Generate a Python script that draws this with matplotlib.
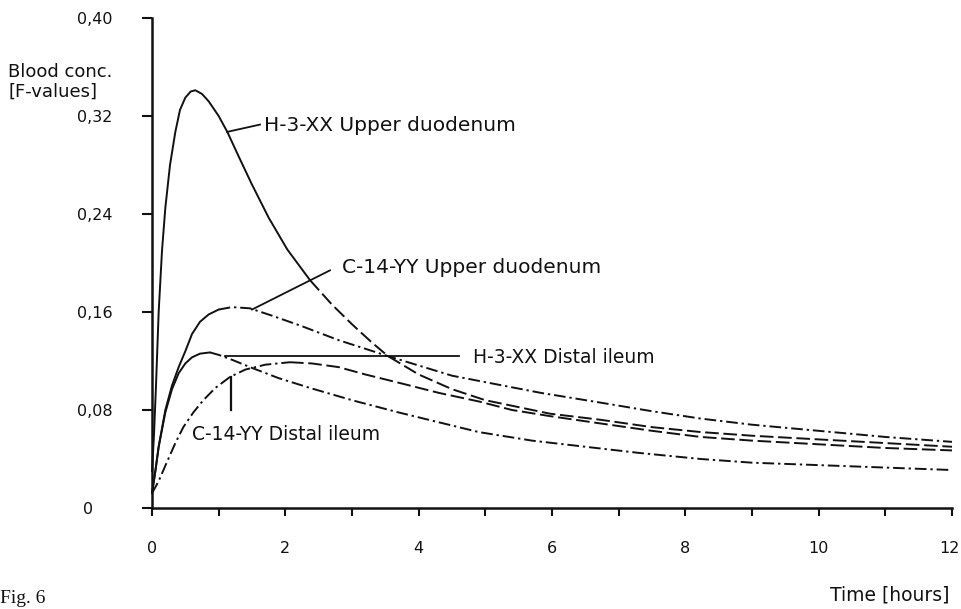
import matplotlib
matplotlib.use("Agg")
import matplotlib.pyplot as plt
from matplotlib.transforms import ScaledTranslation

# ---------------- data ----------------
h3_upper_t = [0, 0.03, 0.06, 0.10, 0.15, 0.20, 0.27, 0.35, 0.42, 0.50, 0.58, 0.65,
              0.75, 0.85, 1.00, 1.13, 1.30, 1.50, 1.75, 2.03, 2.37, 2.70, 3.00,
              3.30, 3.54, 4.00, 4.50, 5.00, 5.97, 6.73, 7.50, 8.23, 9.00, 10.0,
              11.0, 12.0]
h3_upper_c = [0.030, 0.060, 0.100, 0.160, 0.210, 0.245, 0.280, 0.307, 0.325, 0.335,
              0.340, 0.341, 0.338, 0.332, 0.320, 0.307, 0.287, 0.264, 0.237, 0.211,
              0.186, 0.166, 0.150, 0.135, 0.124, 0.109, 0.097, 0.088, 0.077, 0.072,
              0.066, 0.062, 0.059, 0.056, 0.053, 0.050]

c14_upper_t = [0, 0.05, 0.10, 0.20, 0.30, 0.40, 0.50, 0.60, 0.72, 0.85, 1.00, 1.20,
               1.47, 1.80, 2.22, 2.80, 3.54, 4.50, 5.83, 6.73, 7.50, 8.23, 9.00,
               10.0, 11.0, 12.0]
c14_upper_c = [0.012, 0.030, 0.050, 0.080, 0.100, 0.115, 0.128, 0.142, 0.152, 0.158,
               0.162, 0.164, 0.163, 0.157, 0.149, 0.137, 0.124, 0.108, 0.094, 0.086,
               0.079, 0.073, 0.068, 0.063, 0.058, 0.054]

h3_distal_t = [0, 0.05, 0.10, 0.20, 0.30, 0.40, 0.50, 0.60, 0.72, 0.87, 1.00, 1.20,
               1.47, 1.90, 2.37, 3.00, 3.70, 4.30, 4.90, 5.70, 6.50, 7.30, 8.23,
               9.00, 10.0, 11.0, 12.0]
h3_distal_c = [0.012, 0.030, 0.050, 0.078, 0.097, 0.110, 0.118, 0.123, 0.126, 0.127,
               0.125, 0.121, 0.115, 0.106, 0.098, 0.088, 0.078, 0.070, 0.062, 0.055,
               0.050, 0.045, 0.040, 0.037, 0.035, 0.033, 0.031]

c14_distal_t = [0, 0.10, 0.22, 0.35, 0.47, 0.62, 0.77, 0.95, 1.17, 1.40, 1.70, 2.07,
                2.40, 2.80, 3.20, 3.72, 4.30, 4.90, 5.40, 5.97, 6.73, 7.50, 8.23,
                9.00, 10.0, 11.0, 12.0]
c14_distal_c = [0.012, 0.022, 0.037, 0.053, 0.066, 0.078, 0.088, 0.098, 0.107, 0.113,
                0.117, 0.119, 0.118, 0.115, 0.109, 0.102, 0.094, 0.087, 0.080, 0.075,
                0.069, 0.063, 0.058, 0.055, 0.052, 0.049, 0.047]

x_ticks = [0, 2, 4, 6, 8, 10, 12]
x_ticklabels = ["0", "2", "4", "6", "8", "10", "12"]
x_minor = [1, 3, 5, 7, 9, 11]
y_ticks = [0, 0.08, 0.16, 0.24, 0.32, 0.40]
y_ticklabels = ["0", "0,08", "0,16", "0,24", "0,32", "0,40"]

label_h3_upper = "H-3-XX Upper duodenum"
label_c14_upper = "C-14-YY Upper duodenum"
label_h3_distal = "H-3-XX Distal ileum"
label_c14_distal = "C-14-YY Distal ileum"

# ---------------- styles ----------------
INK = "#111111"
LW = 1.4
SOLID = "-"
DASH = (0, (7.0, 2.4))
DASHDOT = (0, (6.0, 2.0, 1.2, 2.0))

series = [
    (h3_upper_t, h3_upper_c, 2.37, SOLID, DASH),
    (c14_upper_t, c14_upper_c, 1.00, SOLID, DASHDOT),
    (h3_distal_t, h3_distal_c, 0.87, SOLID, DASHDOT),
    (c14_distal_t, c14_distal_c, 2.07, DASHDOT, DASH),
]

plt.rcParams['font.family'] = ['DejaVu Sans']

fig = plt.figure(figsize=(9.61, 6.09), dpi=100)
fig.patch.set_facecolor("white")
ax = fig.add_axes([152 / 961, 1 - 508 / 609, 800 / 961, 490 / 609])
ax.set_xlim(0, 12)
ax.set_ylim(0, 0.40)

for t, c, split, s1, s2 in series:
    t1 = [a for a in t if a <= split]
    c1 = c[:len(t1)]
    t2 = t[len(t1) - 1:]
    c2 = c[len(t1) - 1:]
    ax.plot(t1, c1, color=INK, lw=LW, linestyle=s1, clip_on=False,
            solid_capstyle="round", solid_joinstyle="round")
    ax.plot(t2, c2, color=INK, lw=LW, linestyle=s2, clip_on=False)

# pointer lines and labels
ax.plot([1.125, 1.62], [0.307, 0.313], color=INK, lw=1.3)
ax.text(1.68, 0.312, label_h3_upper, fontsize=14.5, va="center", ha="left", color=INK)

ax.plot([1.50, 2.67], [0.162, 0.194], color=INK, lw=1.3)
ax.text(2.85, 0.196, label_c14_upper, fontsize=14.5, va="center", ha="left", color=INK)

ax.plot([1.10, 4.60], [0.124, 0.124], color=INK, lw=1.3)
ax.text(4.82, 0.123, label_h3_distal, fontsize=13.5, va="center", ha="left", color=INK)

ax.plot([1.185, 1.185], [0.107, 0.080], color=INK, lw=1.6)
ax.text(0.60, 0.0596, label_c14_distal, fontsize=13.5, va="center", ha="left", color=INK)

# axes styling
for side in ("top", "right"):
    ax.spines[side].set_visible(False)
for side in ("left", "bottom"):
    ax.spines[side].set_linewidth(1.8)
    ax.spines[side].set_color(INK)

ax.set_xticks(x_ticks)
ax.set_xticklabels(x_ticklabels, fontsize=11.5, color=INK)
ax.set_xticks(x_minor, minor=True)
ax.tick_params(axis="x", which="both", direction="out", length=6, width=1.5,
               color=INK, pad=18)
xl = ax.get_xticklabels()
xl[-1].set_transform(xl[-1].get_transform() +
                     ScaledTranslation(-3 / 100, 0, fig.dpi_scale_trans))

ax.set_yticks(y_ticks)
ax.set_yticklabels(y_ticklabels, fontsize=11.5, color=INK)
ax.tick_params(axis="y", direction="out", length=7.2, width=1.5, color=INK, pad=47)
for lbl in ax.get_yticklabels():
    lbl.set_horizontalalignment("left")
ylbls = ax.get_yticklabels()
ylbls[0].set_transform(ylbls[0].get_transform() +
                       ScaledTranslation(6 / 100, 0, fig.dpi_scale_trans))

fig.text(8 / 961, 1 - 72 / 609, "Blood conc.", fontsize=13, va="center", ha="left", color=INK)
fig.text(8 / 961, 1 - 92 / 609, "[F-values]", fontsize=13, va="center", ha="left", color=INK)
fig.text(830 / 961, 1 - 595 / 609, "Time [hours]", fontsize=13.5, va="center", ha="left",
         color=INK)
fig.text(0 / 961, 1 - 590 / 609, "Fig. 6", fontsize=14, va="top", ha="left",
         family="Liberation Serif", color=INK)

fig.savefig("out.png", dpi=100, facecolor="white")
